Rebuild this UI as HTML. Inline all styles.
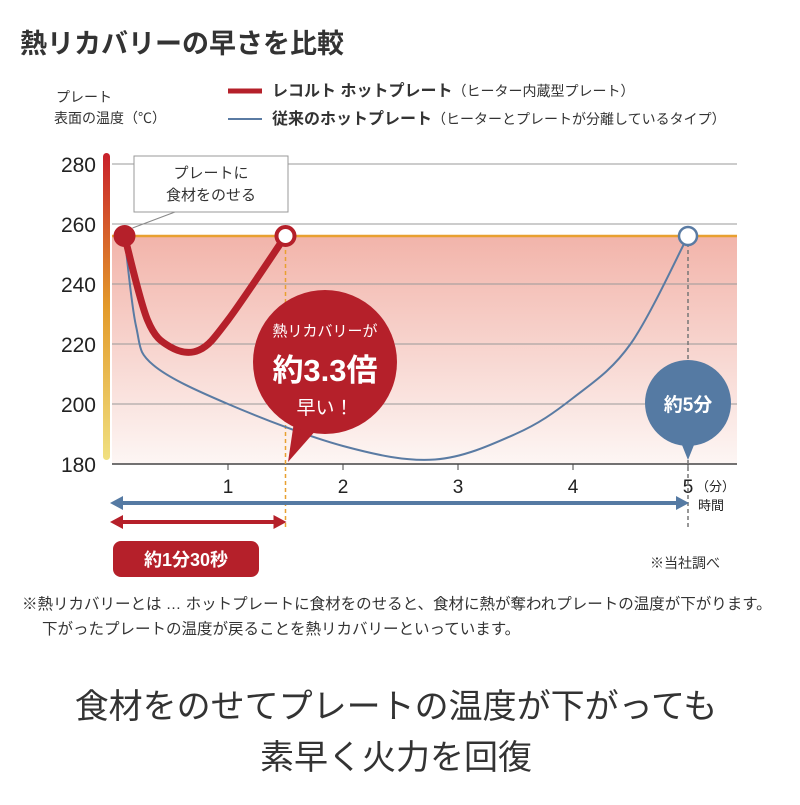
<!DOCTYPE html>
<html><head><meta charset="utf-8"><style>
body{margin:0;width:800px;height:800px;background:#fff;overflow:hidden;font-family:"Liberation Sans","Noto Sans CJK JP",sans-serif;}
svg text{font-family:"Liberation Sans","Noto Sans CJK JP",sans-serif;}
</style></head><body>
<svg width="800" height="800" viewBox="0 0 800 800">
<defs>
<linearGradient id="gbar" x1="0" y1="0" x2="0" y2="1"><stop offset="0" stop-color="#c8202a"/><stop offset="0.5" stop-color="#e39a2a"/><stop offset="1" stop-color="#f0e080"/></linearGradient>
<linearGradient id="gfill" x1="0" y1="0" x2="0" y2="1"><stop offset="0" stop-color="#f2b4aa"/><stop offset="1" stop-color="#fdf6f4"/></linearGradient>
</defs>
<text x="20" y="53" font-size="27" font-weight="bold" fill="#333">熱リカバリーの早さを比較</text>
<text x="56" y="102" font-size="14" fill="#333">プレート</text>
<text x="54" y="123" font-size="14" fill="#333">表面の温度（℃）</text>
<line x1="228" y1="91" x2="262" y2="91" stroke="#b5202a" stroke-width="5"/>
<text x="272" y="96" font-size="16" fill="#333"><tspan font-weight="bold">レコルト ホットプレート</tspan><tspan font-size="14">（ヒーター内蔵型プレート）</tspan></text>
<line x1="228" y1="119" x2="262" y2="119" stroke="#5a7ba3" stroke-width="2"/>
<text x="272" y="124" font-size="16" fill="#333"><tspan font-weight="bold">従来のホットプレート</tspan><tspan font-size="14">（ヒーターとプレートが分離しているタイプ）</tspan></text>
<g id="plot"></g>
<text x="650" y="568" font-size="14" fill="#333">※当社調べ</text>
<text x="22" y="609" font-size="15.5" fill="#333">※熱リカバリーとは … ホットプレートに食材をのせると、食材に熱が奪われプレートの温度が下がります。</text>
<text x="42" y="634" font-size="15.5" fill="#333">下がったプレートの温度が戻ることを熱リカバリーといっています。</text>
<text x="396" y="718" font-size="34" fill="#333" text-anchor="middle">食材をのせてプレートの温度が下がっても</text>
<text x="396" y="769" font-size="34" fill="#333" text-anchor="middle">素早く火力を回復</text>
</svg>
<script>
const yTicks=[180,200,220,240,260,280];
const xTicks=[1,2,3,4,5];
const targetTemp=256;
const recolteT=[0.1,0.3,0.5,0.75,1.0,1.5];
const recolteV=[256,228,219,218,228,256];
const conventionalT=[0.1,0.2,0.35,1.0,2.0,2.8,3.5,4.0,4.5,5.0];
const conventionalV=[256,226,213,200,186,181.5,190,202,220,256];
const NS='http://www.w3.org/2000/svg';
const X=t=>113+t*115, Y=v=>464-(v-180)*3;
const g=document.getElementById('plot');
function el(tag,a,parent){const e=document.createElementNS(NS,tag);for(const k in a)e.setAttribute(k,a[k]);(parent||g).appendChild(e);return e;}
function smooth(ts,vs){const p=ts.map((t,i)=>[X(t),Y(vs[i])]);let d='M'+p[0];for(let i=0;i<p.length-1;i++){const p0=p[i-1]||p[i],p1=p[i],p2=p[i+1],p3=p[i+2]||p2;const c1=[p1[0]+(p2[0]-p0[0])/6,p1[1]+(p2[1]-p0[1])/6],c2=[p2[0]-(p3[0]-p1[0])/6,p2[1]-(p3[1]-p1[1])/6];d+=' C'+c1+' '+c2+' '+p2;}return d;}
let e;
e=el('rect',{x:112,y:Y(targetTemp),width:625,height:464-Y(targetTemp),fill:'url(#gfill)'});


yTicks.forEach(v=>{
 if(v>180){e=el('line',{x1:112,x2:737,y1:Y(v),y2:Y(v),stroke:'#999','stroke-width':1});
 
 }
 e=el('text',{x:96,y:Y(v)+8,'font-size':21,'text-anchor':'end',fill:'#222'});e.textContent=v;
 
 
});
e=el('line',{x1:112,x2:737,y1:Y(targetTemp),y2:Y(targetTemp),stroke:'#e8a030','stroke-width':2.5});


e=el('rect',{x:103,y:153,width:7,height:307,rx:3.5,fill:'url(#gbar)'});


e=el('line',{x1:112,x2:737,y1:464,y2:464,stroke:'#444','stroke-width':1.5});


xTicks.forEach(t=>{
 e=el('line',{x1:X(t),x2:X(t),y1:464,y2:470,stroke:'#444'});
 
 
 e=el('text',{x:X(t),y:493,'font-size':19,'text-anchor':'middle',fill:'#222'});e.textContent=t;
 
 
});
e=el('text',{x:X(5)+8,y:491,'font-size':13,fill:'#222'});e.textContent='（分）';


e=el('text',{x:X(5)+10,y:510,'font-size':13,fill:'#222'});e.textContent='時間';


e=el('line',{x1:X(1.5),x2:X(1.5),y1:Y(targetTemp),y2:530,stroke:'#e8a030','stroke-width':1.5,'stroke-dasharray':'4 3'});


e=el('line',{x1:X(5),x2:X(5),y1:Y(targetTemp),y2:530,stroke:'#777','stroke-width':1.5,'stroke-dasharray':'4 3'});


e=el('path',{d:smooth(conventionalT,conventionalV),fill:'none',stroke:'#5a7ba3','stroke-width':2});


e=el('path',{d:smooth(recolteT,recolteV),fill:'none',stroke:'#b5202a','stroke-width':7,'stroke-linecap':'round','stroke-linejoin':'round'});


e=el('circle',{cx:X(recolteT[0]),cy:Y(recolteV[0]),r:11,fill:'#b5202a'});


e=el('circle',{cx:X(recolteT[5]),cy:Y(recolteV[5]),r:9,fill:'#fff',stroke:'#b5202a','stroke-width':4});


e=el('circle',{cx:X(5),cy:Y(conventionalV[conventionalV.length-1]),r:9,fill:'#fff',stroke:'#5a7ba3','stroke-width':2.5});


e=el('line',{x1:X(0.1)+8,y1:Y(256)-8,x2:175,y2:212,stroke:'#888'});


e=el('rect',{x:134,y:156,width:154,height:56,fill:'#fff',stroke:'#999'});


e=el('text',{x:211,y:178,'font-size':15,'text-anchor':'middle',fill:'#333'});e.textContent='プレートに';


e=el('text',{x:211,y:200,'font-size':15,'text-anchor':'middle',fill:'#333'});e.textContent='食材をのせる';


e=el('path',{d:'M295,415 L288,462 L325,420 Z',fill:'#b5202a'});


e=el('circle',{cx:325,cy:362,r:72,fill:'#b5202a'});


e=el('text',{x:325,y:336,'font-size':15,'text-anchor':'middle',fill:'#fff'});e.textContent='熱リカバリーが';


e=el('text',{x:325,y:381,'font-size':31,'font-weight':'bold','text-anchor':'middle',fill:'#fff'});e.textContent='約3.3倍';


e=el('text',{x:325,y:414,'font-size':19,'text-anchor':'middle',fill:'#fff'});e.textContent='早い！';


e=el('path',{d:'M680,440 L688,460 L696,440 Z',fill:'#557aa3'});


e=el('circle',{cx:688,cy:403,r:43,fill:'#557aa3'});


e=el('text',{x:688,y:411,'font-size':19,'font-weight':'bold','text-anchor':'middle',fill:'#fff'});e.textContent='約5分';


e=el('path',{d:`M${X(0)+10},503 L${X(5)-12},503`,stroke:'#557aa3','stroke-width':4});


e=el('path',{d:`M${X(0)-3},503 l13,-7 v14 Z M${X(5)+1},503 l-13,-7 v14 Z`,fill:'#557aa3'});


e=el('path',{d:`M${X(0)+10},522 L${X(1.5)-12},522`,stroke:'#b5202a','stroke-width':4});


e=el('path',{d:`M${X(0)-3},522 l13,-7 v14 Z M${X(1.5)+1},522 l-13,-7 v14 Z`,fill:'#b5202a'});


e=el('rect',{x:113,y:541,width:146,height:36,rx:8,fill:'#b5202a'});


e=el('text',{x:186,y:566,'font-size':18,'font-weight':'bold','text-anchor':'middle',fill:'#fff'});e.textContent='約1分30秒';


</script>
</body></html>
